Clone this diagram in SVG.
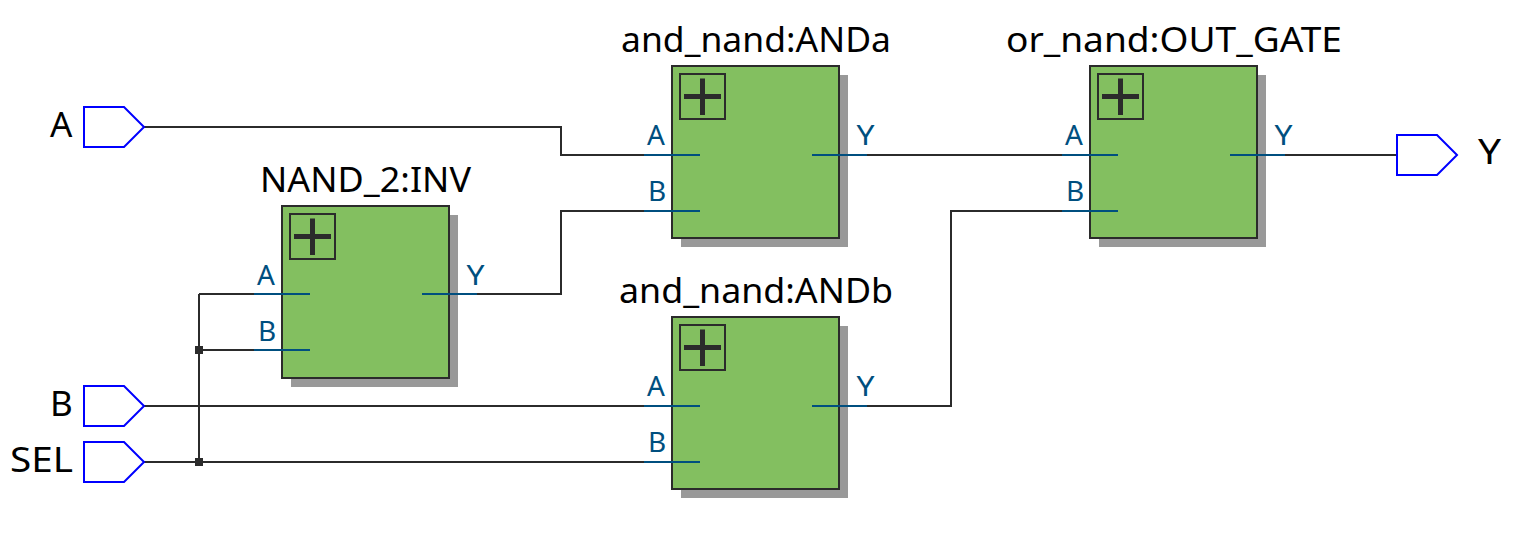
<svg xmlns="http://www.w3.org/2000/svg" width="1537" height="541" viewBox="0 0 1537 541">
<style>
text{font-family:"Noto Sans","Open Sans","DejaVu Sans",sans-serif}
.t{font-size:35px;fill:#000}
.p{font-size:28px;fill:#004f7f}
.io{fill:#fff;stroke:#0000ff;stroke-width:2}
.w{fill:none;stroke:#2b2b2b;stroke-width:2}
.pin{fill:none;stroke:#004f7f;stroke-width:2}
.sh{fill:#999}
.b{fill:#83bf60;stroke:#2b2b2b;stroke-width:2}
.ic{fill:none;stroke:#2b2b2b;stroke-width:2}
.pl{fill:none;stroke:#2b2b2b;stroke-width:5}
.j{fill:#2b2b2b}
</style>
<defs>
<g id="blk">
<rect class="sh" x="9" y="9" width="167" height="172"/>
<rect class="b" x="0" y="0" width="167" height="172"/>
<rect class="ic" x="8" y="8" width="45" height="45"/>
<path class="pl" d="M12 30.500H49M30.500 12.500V49"/>
<text class="p" x="-25" y="78.500">A</text>
<text class="p" x="-24" y="134.500">B</text>
<text class="p" x="184.500" y="78.500" textLength="18" lengthAdjust="spacingAndGlyphs">Y</text>
</g>
<path id="pins" class="pin" d="M-28 0H28M-28 56H28M140 0H195"/>
<polygon id="port" class="io" points="0,0 40,0 60,20 40,40 0,40"/>
</defs>
<g id="connectors">
<path class="w" d="M144 127H561V155H644M422 294H561V211H644M144 406H644M144 462H644M199 294V462M254 294H199M254 350H199M867 155H1062M867 406H951V211H1062M1257 155H1397"/>
<rect class="j" x="195" y="346" width="8" height="8"/>
<rect class="j" x="195" y="458" width="8" height="8"/>
</g>
<g id="in_A"><use href="#port" x="84" y="107"/><text class="t" x="50" y="137">A</text></g>
<g id="in_B"><use href="#port" x="84" y="386"/><text class="t" x="50" y="416">B</text></g>
<g id="in_SEL"><use href="#port" x="84" y="442"/><text class="t" x="10" y="472" textLength="63" lengthAdjust="spacingAndGlyphs">SEL</text></g>
<g id="out_Y"><use href="#port" x="1397" y="135"/><text class="t" x="1478" y="164" textLength="23" lengthAdjust="spacingAndGlyphs">Y</text></g>
<g id="NAND_2_INV"><use href="#blk" x="282" y="206"/><use href="#pins" x="282" y="294"/><text class="t" x="260" y="192" textLength="211" lengthAdjust="spacingAndGlyphs">NAND_2:INV</text></g>
<g id="and_nand_ANDa"><use href="#blk" x="672" y="66"/><use href="#pins" x="672" y="155"/><text class="t" x="621" y="52" textLength="270" lengthAdjust="spacingAndGlyphs">and_nand:ANDa</text></g>
<g id="and_nand_ANDb"><use href="#blk" x="672" y="317"/><use href="#pins" x="672" y="406"/><text class="t" x="619" y="303" textLength="274" lengthAdjust="spacingAndGlyphs">and_nand:ANDb</text></g>
<g id="or_nand_OUT_GATE"><use href="#blk" x="1090" y="66"/><use href="#pins" x="1090" y="155"/><text class="t" x="1006" y="52" textLength="336" lengthAdjust="spacingAndGlyphs">or_nand:OUT_GATE</text></g>
</svg>
